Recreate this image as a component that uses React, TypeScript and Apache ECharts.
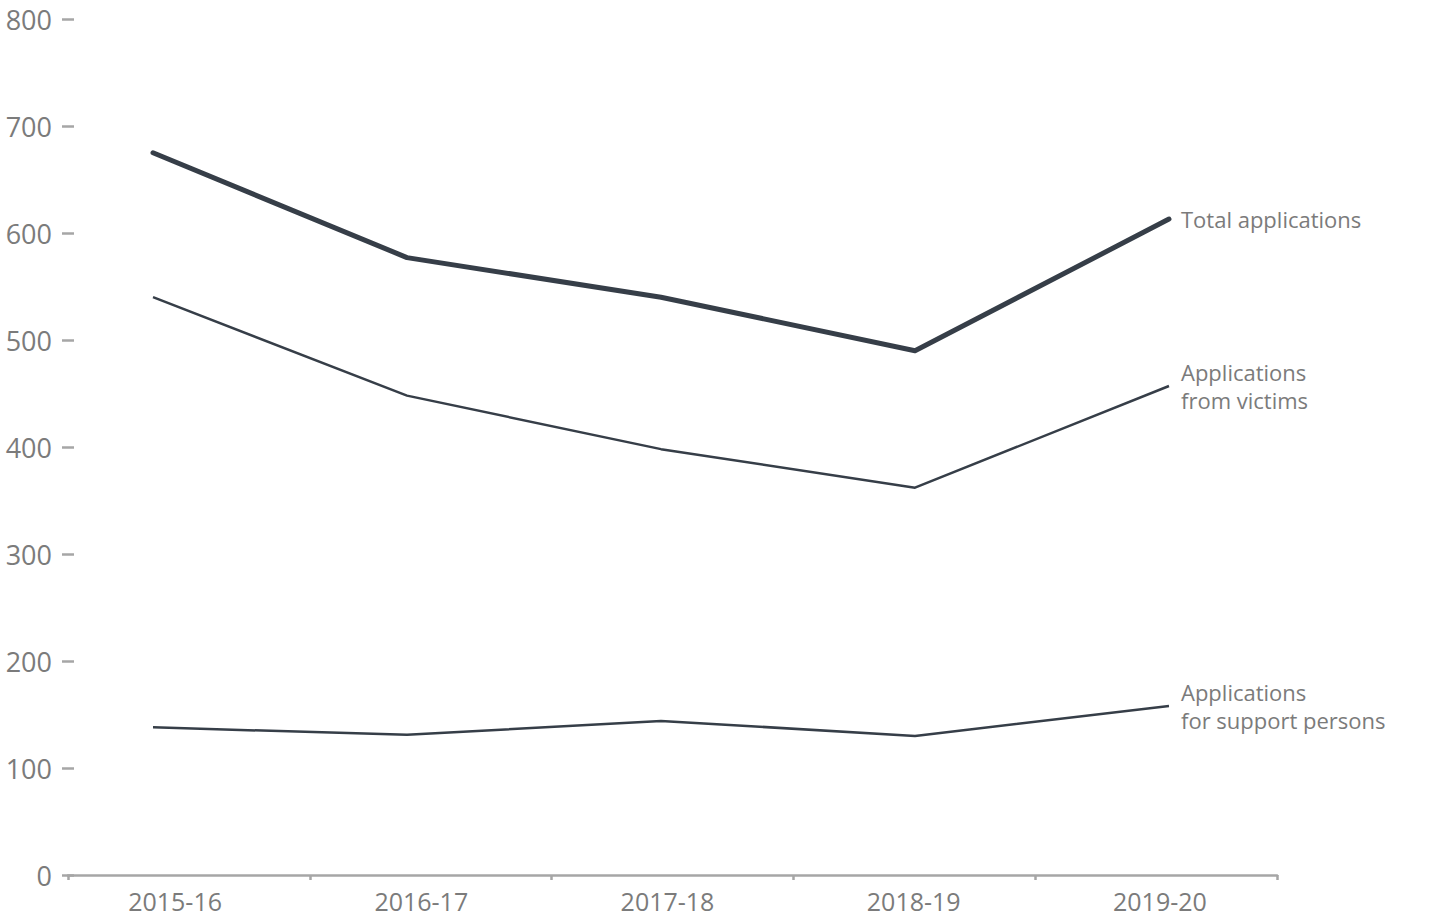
import React, { useEffect, useRef } from "react";
import * as echarts from "echarts";

const categories = ["2015-16", "2016-17", "2017-18", "2018-19", "2019-20"];
const totalApplications = [675, 577, 540, 490, 613];
const victimApplications = [540, 448, 398, 362, 457];
const supportApplications = [138, 131, 144, 130, 158];
const yTicks = { min: 0, max: 800, interval: 100 };

const LINE = "#363e48";
const GREY = "#7b7b7b";
const AXIS = "#a6a6a6";
const FONT = "'Open Sans', sans-serif";
const TOP = 19;

export default function App() {
  const ref = useRef<HTMLDivElement>(null);
  useEffect(() => {
    if (!ref.current) return;
    const chart = echarts.init(ref.current, undefined, { renderer: "svg" });
    const endLabel = (text: string) => ({
      show: true,
      formatter: text,
      color: GREY,
      fontSize: 22,
      lineHeight: 28,
      fontFamily: FONT,
      distance: 12,
      align: "left",
    });
    chart.setOption({
      animation: false,
      grid: [
        { left: 68, right: 153, top: TOP, bottom: 49 },
        { left: 153, right: 261, top: TOP, bottom: 49 },
        { left: 52, right: 147, top: TOP, bottom: 49 },
      ],
      xAxis: [
        {
          type: "category",
          gridIndex: 0,
          data: categories,
          boundaryGap: true,
          axisLine: { show: true, lineStyle: { color: AXIS, width: 2.5 } },
          axisTick: { show: true, alignWithLabel: false, length: 5, lineStyle: { color: AXIS, width: 2.5 } },
          axisLabel: { show: false },
        },
        {
          type: "category",
          gridIndex: 1,
          data: categories,
          boundaryGap: false,
          show: false,
        },
        {
          type: "category",
          gridIndex: 2,
          data: categories,
          boundaryGap: true,
          axisLine: { show: false },
          axisTick: { show: false },
          axisLabel: { color: GREY, fontSize: 25, fontFamily: FONT, margin: 13 },
        },
      ],
      yAxis: [
        {
          type: "value",
          gridIndex: 0,
          min: yTicks.min,
          max: yTicks.max,
          interval: yTicks.interval,
          offset: -6,
          axisLine: { show: false },
          axisTick: { show: true, length: 12, lineStyle: { color: AXIS, width: 2.5 } },
          splitLine: { show: false },
          axisLabel: { color: GREY, fontSize: 27, lineHeight: 28, fontFamily: FONT, margin: 22 },
        },
        {
          type: "value",
          gridIndex: 1,
          min: yTicks.min,
          max: yTicks.max,
          interval: yTicks.interval,
          show: false,
          splitLine: { show: false },
        },
        {
          type: "value",
          gridIndex: 2,
          min: yTicks.min,
          max: yTicks.max,
          interval: yTicks.interval,
          show: false,
          splitLine: { show: false },
        },
      ],
      series: [
        {
          name: "Total applications",
          type: "line",
          xAxisIndex: 1,
          yAxisIndex: 1,
          data: totalApplications,
          symbol: "none",
          lineStyle: { color: LINE, width: 5, cap: "round", join: "round" },
          endLabel: endLabel("Total applications"),
        },
        {
          name: "Applications from victims",
          type: "line",
          xAxisIndex: 1,
          yAxisIndex: 1,
          data: victimApplications,
          symbol: "none",
          lineStyle: { color: LINE, width: 2.5, join: "round" },
          endLabel: endLabel("Applications\nfrom victims"),
        },
        {
          name: "Applications for support persons",
          type: "line",
          xAxisIndex: 1,
          yAxisIndex: 1,
          data: supportApplications,
          symbol: "none",
          lineStyle: { color: LINE, width: 2.5, join: "round" },
          endLabel: endLabel("Applications\nfor support persons"),
        },
      ],
    });
    return () => chart.dispose();
  }, []);
  return (
    <div
      ref={ref}
      style={{ position: "absolute", left: 0, top: 0, width: 1430, height: 924, background: "#fff" }}
    />
  );
}
